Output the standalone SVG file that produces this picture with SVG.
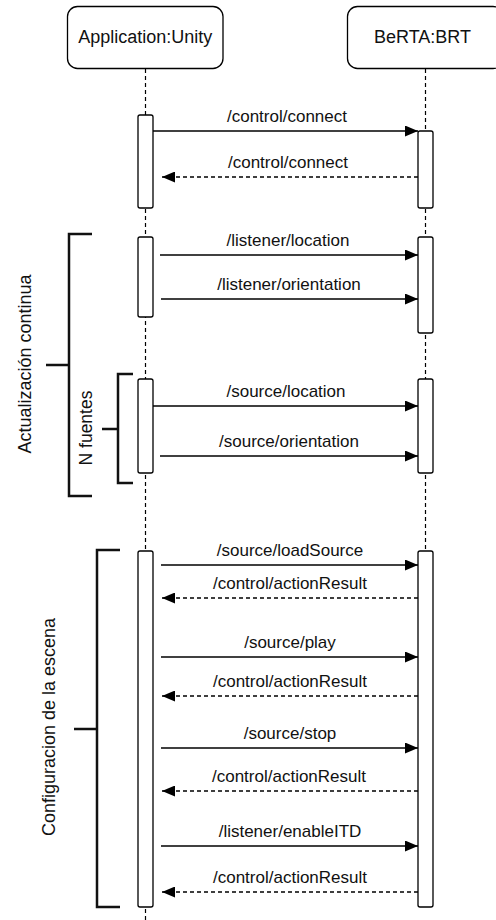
<svg xmlns="http://www.w3.org/2000/svg" width="496" height="920" viewBox="0 0 496 920">
<style>
.hdr{fill:#fff;stroke:#000;stroke-width:1.3}
.ht{font-family:"Liberation Sans",Arial,sans-serif;font-size:18px;fill:#111;text-anchor:middle}
.life{stroke:#000;stroke-width:1.2;stroke-dasharray:4 3;fill:none}
.act{fill:#fff;stroke:#000;stroke-width:1.3}
.msg{stroke:#000;stroke-width:1.3;fill:none}
.ret{stroke:#000;stroke-width:1.3;fill:none;stroke-dasharray:4 3}
.lbl{font-family:"Liberation Sans",Arial,sans-serif;font-size:17px;fill:#111;text-anchor:middle}
.br{stroke:#111;stroke-width:2.5;fill:none}
.bt{font-family:"Liberation Sans",Arial,sans-serif;font-size:18px;fill:#111;text-anchor:middle}
</style>
<defs>
<marker id="ah" markerUnits="userSpaceOnUse" markerWidth="13" markerHeight="11" refX="13" refY="5.5" orient="auto">
<path d="M0,0 L13,5.5 L0,11 z" fill="#000"/>
</marker>
</defs>
<g id="lifelines">
<line class="life" x1="145.5" y1="69" x2="145.5" y2="920"/>
<line class="life" x1="425.5" y1="69" x2="425.5" y2="907"/>
</g>
<g id="unity">
<rect class="hdr" x="67.5" y="6.5" width="155.5" height="62" rx="10"/>
<text class="ht" x="145.3" y="43">Application:Unity</text>
</g>
<g id="brt">
<rect class="hdr" x="347.5" y="6.5" width="155.5" height="62" rx="10"/>
<text class="ht" x="422.5" y="43">BeRTA:BRT</text>
</g>
<g id="activations">
<rect class="act" x="138" y="115" width="15" height="93" rx="2"/>
<rect class="act" x="418" y="131" width="15" height="77" rx="2"/>
<rect class="act" x="138" y="237" width="15" height="80" rx="2"/>
<rect class="act" x="418" y="237" width="15" height="96" rx="2"/>
<rect class="act" x="138" y="379" width="15" height="94" rx="2"/>
<rect class="act" x="418" y="379" width="15" height="94" rx="2"/>
<rect class="act" x="138" y="551" width="15" height="356" rx="2"/>
<rect class="act" x="418" y="551" width="15" height="356" rx="2"/>
</g>
<g id="brackets">
<path class="br" d="M92,234 H69 V496 H92 M46,365 H69"/>
<text class="bt" transform="translate(31,364) rotate(-90)">Actualización continua</text>
<path class="br" d="M133,374 H118 V483 H133 M102,429 H118"/>
<text class="bt" style="font-size:17.5px" transform="translate(91.5,428) rotate(-90)">N fuentes</text>
<path class="br" d="M120,550 H97 V907 H120 M74,729 H97"/>
<text class="bt" transform="translate(55,727) rotate(-90)">Configuracion de la escena</text>
</g>
<g id="connectors">
<line class="msg" x1="153" y1="131" x2="418" y2="131" marker-end="url(#ah)"/>
<text class="lbl" x="287" y="122">/control/connect</text>
<line class="ret" x1="418" y1="177" x2="162" y2="177" marker-end="url(#ah)"/>
<text class="lbl" x="288" y="168">/control/connect</text>

<line class="msg" x1="160" y1="255" x2="418" y2="255" marker-end="url(#ah)"/>
<text class="lbl" x="288" y="246">/listener/location</text>
<line class="msg" x1="161" y1="299" x2="418" y2="299" marker-end="url(#ah)"/>
<text class="lbl" x="289" y="290">/listener/orientation</text>

<line class="msg" x1="153" y1="406" x2="418" y2="406" marker-end="url(#ah)"/>
<text class="lbl" x="286" y="397">/source/location</text>
<line class="msg" x1="160" y1="456" x2="418" y2="456" marker-end="url(#ah)"/>
<text class="lbl" x="289" y="447">/source/orientation</text>

<line class="msg" x1="161" y1="565" x2="418" y2="565" marker-end="url(#ah)"/>
<text class="lbl" x="290" y="556">/source/loadSource</text>
<line class="ret" x1="418" y1="598" x2="162" y2="598" marker-end="url(#ah)"/>
<text class="lbl" x="290" y="589">/control/actionResult</text>

<line class="msg" x1="161" y1="657" x2="418" y2="657" marker-end="url(#ah)"/>
<text class="lbl" x="290" y="648">/source/play</text>
<line class="ret" x1="418" y1="696" x2="162" y2="696" marker-end="url(#ah)"/>
<text class="lbl" x="290" y="687">/control/actionResult</text>

<line class="msg" x1="161" y1="748" x2="418" y2="748" marker-end="url(#ah)"/>
<text class="lbl" x="290" y="739">/source/stop</text>
<line class="ret" x1="418" y1="791" x2="162" y2="791" marker-end="url(#ah)"/>
<text class="lbl" x="289" y="782">/control/actionResult</text>

<line class="msg" x1="161" y1="846" x2="418" y2="846" marker-end="url(#ah)"/>
<text class="lbl" x="290" y="837">/listener/enableITD</text>
<line class="ret" x1="418" y1="892" x2="162" y2="892" marker-end="url(#ah)"/>
<text class="lbl" x="290" y="883">/control/actionResult</text>
</g>
</svg>
